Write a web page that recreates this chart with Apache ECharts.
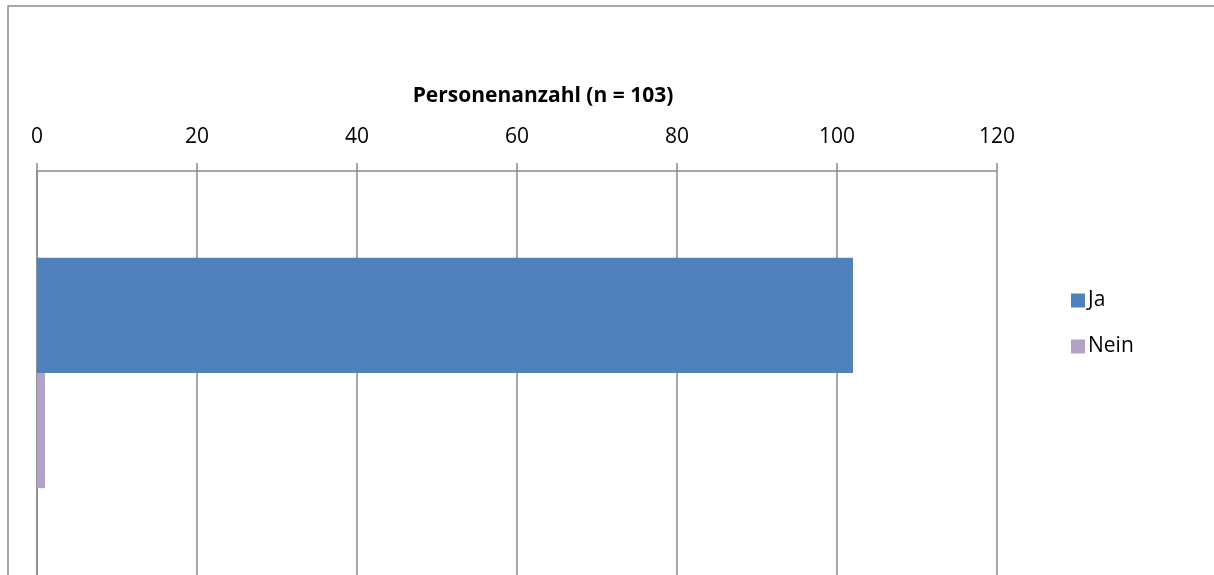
<!DOCTYPE html>
<html>
<head>
<meta charset="utf-8">
<script src="https://cdn.jsdelivr.net/npm/echarts@6/dist/echarts.min.js"></script>
<style>
  html, body { margin: 0; padding: 0; background: #fff; }
  #chart { width: 1214px; height: 575px; }
</style>
</head>
<body>
<div id="chart"></div>
<script>
// data
var categories = ['']
var seriesNames = ['Ja', 'Nein']
var jaValues = [102]
var neinValues = [1]
var axisMin = 0
var axisMax = 120
var axisStep = 20

var myChart = echarts.init(document.getElementById('chart'))
var labelFont = 'Open Sans'
var option = {
  animation: false,
  backgroundColor: '#fff',
  title: {
    text: 'Personenanzahl (n = 103)',
    left: 538,
    top: 81,
    textAlign: 'center',
    textStyle: {
      fontFamily: labelFont,
      fontSize: 21,
      fontWeight: 'bold',
      color: '#000'
    }
  },
  legend: {
    orient: 'vertical',
    left: 1066,
    top: 285,
    itemWidth: 14,
    itemHeight: 14,
    itemGap: 25,
    icon: 'rect',
    data: seriesNames,
    textStyle: { fontFamily: labelFont, fontSize: 21, color: '#000', padding: [0, 0, 0, -2] }
  },
  graphic: [{
    type: 'rect',
    shape: { x: 8, y: 6, width: 1400, height: 800 },
    style: { fill: 'none', stroke: '#8a8a8a', lineWidth: 1.5 },
    silent: true
  }],
  grid: {
    left: 37,
    right: 217,
    top: 171,
    height: 406,
    containLabel: false
  },
  xAxis: {
    type: 'value',
    position: 'top',
    min: axisMin,
    max: axisMax,
    interval: axisStep,
    axisLine: { show: true, lineStyle: { color: '#8a8a8a', width: 1.5 } },
    axisTick: { show: true, length: 8, lineStyle: { color: '#8a8a8a', width: 1.5 } },
    axisLabel: { margin: 23, fontFamily: labelFont, fontSize: 21, color: '#000' },
    splitLine: { show: true, lineStyle: { color: '#8a8a8a', width: 1.5 } }
  },
  yAxis: {
    type: 'category',
    inverse: true,
    data: categories,
    axisLine: { show: true, lineStyle: { color: '#8a8a8a', width: 1.5 } },
    axisTick: { show: false },
    axisLabel: { show: false }
  },
  series: [
    {
      name: seriesNames[0],
      type: 'bar',
      barGap: '0%',
      barCategoryGap: '43%',
      itemStyle: { color: '#4F81BD' },
      data: jaValues
    },
    {
      name: seriesNames[1],
      type: 'bar',
      barGap: '0%',
      barCategoryGap: '43%',
      itemStyle: { color: '#B2A2C7' },
      data: neinValues
    }
  ]
}
myChart.setOption(option)
</script>
</body>
</html>
